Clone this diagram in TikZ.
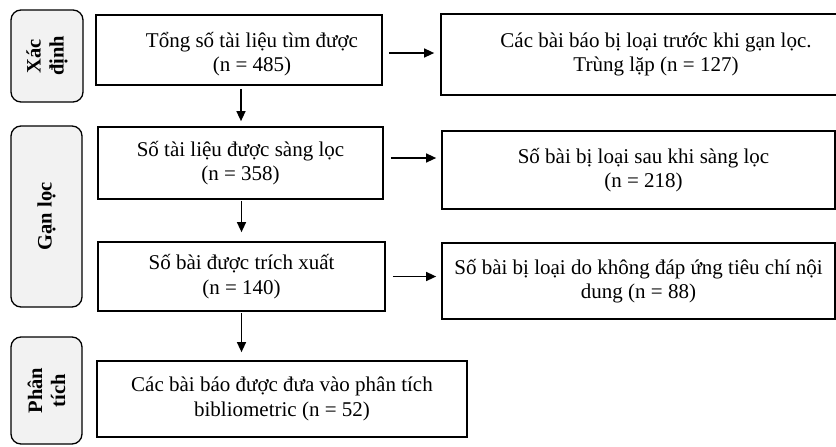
\documentclass[tikz,border=0pt]{standalone}
\usepackage{fontspec}
\setmainfont{Liberation Serif}
\usetikzlibrary{arrows.meta}
\definecolor{stagegray}{HTML}{F2F2F2}
\begin{document}
\begin{tikzpicture}[x=1pt,y=-1pt,
  box/.style={draw, line width=1.7pt, align=center, font=\fontsize{21}{24.5}\selectfont, inner sep=0pt},
  stage/.style={draw, line width=1.3pt, rounded corners=10pt, fill=stagegray, rotate=90, align=center, font=\fontsize{20.5}{23}\selectfont\bfseries, inner sep=0pt},
  arr/.style={-{Triangle[length=10pt,width=9pt]}, line width=1.4pt},
  txt/.style={align=center, font=\fontsize{21}{24.5}\selectfont, inner sep=0pt}
]
\useasboundingbox (0,0) rectangle (836,447);
\clip (0,0) rectangle (836,447);

% stage labels
\node[stage, minimum width=92pt, minimum height=72pt] (L1) at (47,56) {Xác\\định};
\node[stage, minimum width=181pt, minimum height=71pt] (L2) at (46.5,216.5) {Gạn lọc};
\node[stage, minimum width=107pt, minimum height=71pt] (L3) at (46.5,390.5) {Phân\\tích};

% main column
\node[box, minimum width=286pt, minimum height=70pt] (b1) at (239,50) {};
\node[txt] (b1t) at (252,54) {Tổng số tài liệu tìm được\\(n = 485)};
\node[box, minimum width=285pt, minimum height=72pt] (b2) at (240.5,163) {Số tài liệu được sàng lọc\\(n = 358)};
\node[box, minimum width=287pt, minimum height=69pt] (b3) at (241.5,276.5) {Số bài được trích xuất\\(n = 140)};
\node[box, minimum width=370pt, minimum height=76pt] (b4) at (282,399) {Các bài báo được đưa vào phân tích\\bibliometric (n = 52)};

% right column
\node[box, minimum width=430pt, minimum height=81pt] (r1) at (656,54.5) {Các bài báo bị loại trước khi gạn lọc.\\Trùng lặp (n = 127)};
\node[box, minimum width=393pt, minimum height=78pt] (r2) at (638.5,170) {};
\node[txt] (r2t) at (643.5,170) {Số bài bị loại sau khi sàng lọc\\(n = 218)};
\node[box, minimum width=393pt, minimum height=76pt] (r3) at (638.5,281) {Số bài bị loại do không đáp ứng tiêu chí nội\\dung (n = 88)};

% horizontal arrows
\draw[arr, shorten <=6pt, shorten >=6pt] ([yshift=-3pt]b1.east) -- ([yshift=-3pt]b1.east -| r1.west);
\draw[arr, shorten <=7pt, shorten >=5pt] ([yshift=5pt]b2.east) -- ([yshift=5pt]b2.east -| r2.west);
\draw[arr, shorten <=7pt, shorten >=5pt] (b3.east) -- (b3.east -| r3.west);

% vertical arrows
\draw[arr, shorten <=3pt, shorten >=5pt] ([xshift=2pt]b1.south) -- ([xshift=2pt]b1.south |- b2.north);
\draw[arr, shorten <=1pt, shorten >=9pt] ([xshift=1pt]b2.south) -- ([xshift=1pt]b2.south |- b3.north);
\draw[arr, shorten <=1pt, shorten >=8pt] (b3.south) -- (b3.south |- b4.north);
\end{tikzpicture}
\end{document}
